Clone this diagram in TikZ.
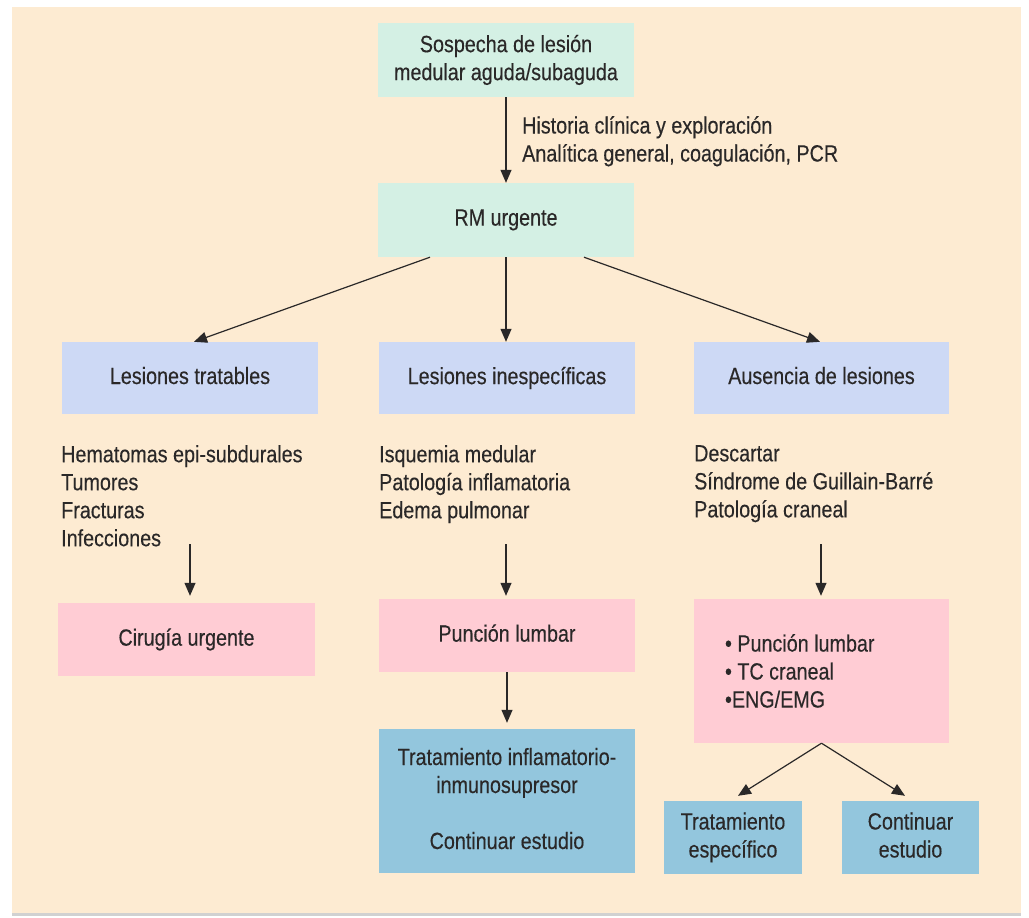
\documentclass[tikz,border=0pt]{standalone}
\usepackage{fontspec}
\setmainfont{Liberation Sans}[FakeStretch=0.84,FakeBold=0.3]
\usetikzlibrary{arrows.meta}
\definecolor{bgc}{HTML}{FDEBD2}
\definecolor{mint}{HTML}{D4F0E4}
\definecolor{lav}{HTML}{CDD9F5}
\definecolor{pinkc}{HTML}{FFCCD4}
\definecolor{bluec}{HTML}{93C6DD}
\definecolor{txt}{HTML}{2A2828}
\tikzset{
  base/.style={font=\fontsize{23.5}{28}\selectfont, text=txt, inner sep=0pt},
  box/.style={base, align=center, anchor=center, text depth=5pt},
  lst/.style={base, align=left, anchor=north west},
  arr/.style={draw=txt, line width=1.2pt, -{Triangle[length=13pt,width=11pt]}},
}
\newcommand{\bx}[7]{% name, color, x1, y1, x2, y2, text
  \node[box, fill=#2, minimum width={#5-#3}, minimum height={#6-#4}] (#1) at ({(#3+#5)/2},{(#4+#6)/2}) {#7};}
\begin{document}
\begin{tikzpicture}[x=1pt,y=-1pt]
\useasboundingbox (0,0) rectangle (1029,918);
\fill[white] (0,0) rectangle (1029,918);
\fill[bgc] (12,7) rectangle (1021,914);
\fill[black!18] (12,913) rectangle (1021,916);

\bx{top}{mint}{378}{23}{634}{97}{Sospecha de lesión\\medular aguda/subaguda}
\bx{rm}{mint}{378}{183}{634}{257}{RM urgente}

\bx{lt}{lav}{62}{342}{318}{414}{Lesiones tratables}
\bx{li}{lav}{379}{342}{635}{414}{Lesiones inespecíficas}
\bx{al}{lav}{694}{342}{949}{414}{Ausencia de lesiones}

\bx{cu}{pinkc}{58}{603}{315}{676}{Cirugía urgente}
\bx{pl}{pinkc}{379}{599}{635}{672}{Punción lumbar}
\node[base, fill=pinkc, inner xsep=31pt, minimum height=144pt, anchor=center] (pr) at (821.5,671) {\parbox{193pt}{• Punción lumbar\\• TC craneal\\•ENG/EMG}};

\bx{ti}{bluec}{379}{729}{635}{873}{Tratamiento inflamatorio-\\inmunosupresor\\[28pt]Continuar estudio}
\bx{te}{bluec}{664}{801}{802}{874}{Tratamiento\\específico}
\bx{ce}{bluec}{842}{801}{979}{874}{Continuar\\estudio}

\node[lst] (hc) at (522,116) {Historia clínica y exploración\\Analítica general, coagulación, PCR};

\node[lst] (l1) at (61,445) {Hematomas epi-subdurales\\Tumores\\Fracturas\\Infecciones};
\node[lst] (l2) at (379,445) {Isquemia medular\\Patología inflamatoria\\Edema pulmonar};
\node[lst] (l3) at (694,445) {Descartar\\Síndrome de Guillain-Barré\\Patología craneal};

\draw[arr] (top.south) -- (rm.north);
\draw[arr] ([xshift=-76pt]rm.south) -- ([xshift=4pt]lt.north);
\draw[arr] (rm.south) -- (rm.south |- li.north);
\draw[arr] ([xshift=78pt]rm.south) -- ([xshift=-1.5pt]al.north);

\coordinate (s1) at (190,544);
\coordinate (s2) at (506,544);
\coordinate (s3) at (821,544);
\draw[arr] (s1) -- ([yshift=7pt]cu.north -| s1);
\draw[arr] (s2) -- ([yshift=3pt]pl.north -| s2);
\draw[arr] (s3) -- ([yshift=3pt]pr.north -| s3);
\draw[arr] (pl.south) -- ([yshift=6pt]pl.south |- ti.north);
\draw[arr] (pr.south) -- ([xshift=5pt,yshift=5pt]te.north);
\draw[arr] (pr.south) -- ([xshift=-5.5pt,yshift=5pt]ce.north);
\end{tikzpicture}
\end{document}
